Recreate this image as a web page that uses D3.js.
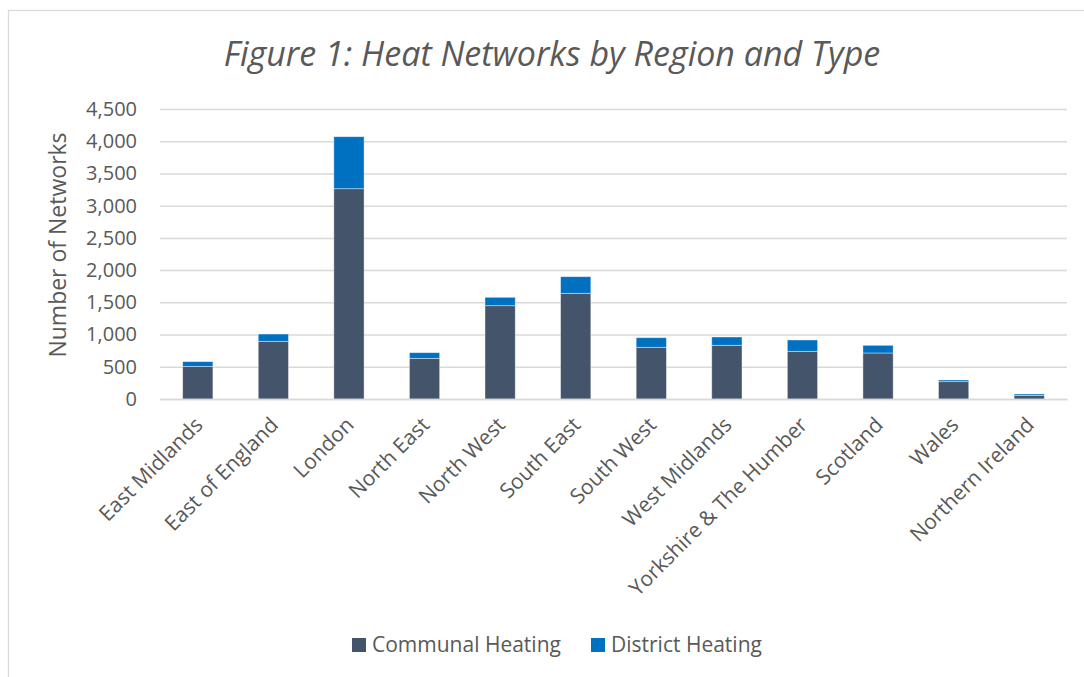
<!DOCTYPE html>
<html>
<head>
<meta charset="utf-8">
<script src="https://cdn.jsdelivr.net/npm/d3@7"></script>
<style>
  body { margin: 0; background: #fff; }
  svg { display: block; font-family: "Open Sans", sans-serif; }
</style>
</head>
<body>
<svg id="chart"></svg>
<script>
    // Data
    const regions = ["East Midlands", "East of England", "London", "North East", "North West",
                     "South East", "South West", "West Midlands", "Yorkshire & The Humber",
                     "Scotland", "Wales", "Northern Ireland"];
    const communal = [505, 895, 3263, 631, 1448, 1640, 802, 833, 740, 714, 269, 57];
    const district = [75, 113, 807, 88, 130, 258, 149, 129, 176, 119, 26, 21];
    const seriesNames = ["Communal Heating", "District Heating"];
    const yTicks = [0, 500, 1000, 1500, 2000, 2500, 3000, 3500, 4000, 4500];

    const colors = ["#44546A", "#0070C0"];
    const textColor = "#595959";
    const gridColor = "#d9d9d9";

    const W = 1084, H = 677;
    const margin = { top: 109, right: 17, bottom: 278, left: 160 },
          width = W - margin.left - margin.right,
          height = H - margin.top - margin.bottom;

    const root = d3.select("#chart").attr("width", W).attr("height", H);

    // chart frame
    root.append("rect")
      .attr("x", 8.5).attr("y", 10.5)
      .attr("width", W).attr("height", H)
      .attr("fill", "none")
      .attr("stroke", gridColor)
      .attr("stroke-width", 1.3);

    // title
    root.append("text")
      .attr("x", 552).attr("y", 66)
      .attr("text-anchor", "middle")
      .attr("font-size", 34)
      .attr("font-style", "italic")
      .attr("fill", textColor)
      .text("Figure 1: Heat Networks by Region and Type");

    const svg = root.append("g")
      .attr("transform", `translate(${margin.left},${margin.top})`);

    const table = regions.map((r, i) => ({ region: r, [seriesNames[0]]: communal[i], [seriesNames[1]]: district[i] }));
    const stacked = d3.stack().keys(seriesNames)(table);

    const x = d3.scaleBand()
      .domain(regions)
      .range([0, width])
      .paddingInner(0.6)
      .paddingOuter(0.3);

    const y = d3.scaleLinear()
      .domain([0, 4500])
      .range([height, 0]);

    // gridlines + y labels
    const yAxis = svg.append("g")
      .call(d3.axisLeft(y).tickValues(yTicks).tickFormat(d3.format(",")).tickSize(-width).tickPadding(23));
    yAxis.select(".domain").remove();
    yAxis.selectAll(".tick line").attr("stroke", gridColor).attr("stroke-width", 1.5);
    yAxis.selectAll(".tick text")
      .attr("fill", textColor)
      .attr("font-size", 20)
      .attr("font-family", "Open Sans, sans-serif");

    // bars
    svg.selectAll(".series")
      .data(stacked)
      .join("g")
      .attr("fill", (d, i) => colors[i])
      .selectAll("rect")
      .data(d => d)
      .join("rect")
      .attr("x", d => x(d.data.region))
      .attr("y", d => y(d[1]))
      .attr("width", x.bandwidth())
      .attr("height", d => y(d[0]) - y(d[1]))
      .attr("stroke", "#ffffff")
      .attr("stroke-opacity", 0.5)
      .attr("stroke-width", 0.8);

    // x axis
    const xAxis = svg.append("g")
      .attr("transform", `translate(0,${height})`)
      .call(d3.axisBottom(x).tickSize(0).tickPadding(0));
    xAxis.select(".domain").attr("stroke", gridColor).attr("stroke-width", 1.5);
    xAxis.selectAll(".tick text")
      .attr("fill", textColor)
      .attr("font-size", 21)
      .attr("font-family", "Open Sans, sans-serif")
      .attr("text-anchor", "end")
      .attr("dy", "0.35em")
      .attr("transform", "translate(1,22) rotate(-45)");

    // y axis title
    root.append("text")
      .attr("transform", "translate(66,245) rotate(-90)")
      .attr("text-anchor", "middle")
      .attr("font-size", 23)
      .attr("fill", textColor)
      .text("Number of Networks");

    // legend
    const legend = root.append("g");
    const legendX = [352, 591];
    seriesNames.forEach((name, i) => {
      legend.append("rect")
        .attr("x", legendX[i]).attr("y", 638)
        .attr("width", 14).attr("height", 14)
        .attr("fill", colors[i]);
      legend.append("text")
        .attr("x", legendX[i] + 20).attr("y", 645)
        .attr("dy", "0.35em")
        .attr("font-size", 21)
        .attr("fill", textColor)
        .text(name);
    });
</script>
</body>
</html>
